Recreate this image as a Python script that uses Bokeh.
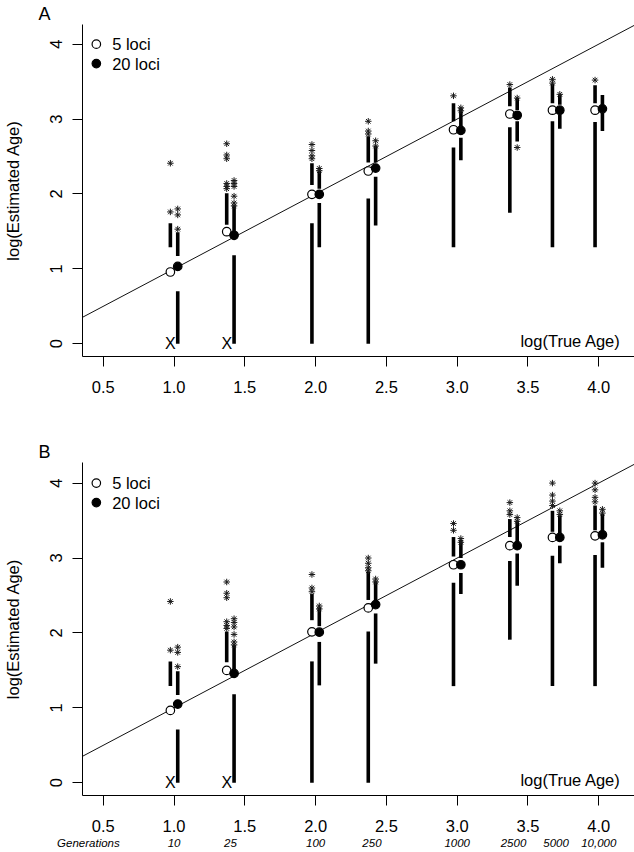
from bokeh.plotting import figure
from bokeh.layouts import column
from bokeh.models import (Range1d, FixedTicker, NumeralTickFormatter, Slope, Label,
                          LinearAxis, ColumnDataSource, Title)
from bokeh.transform import dodge
from bokeh.core.properties import value
from bokeh.embed import file_html
from bokeh.resources import INLINE

FONT = "Liberation Sans"

# ---------------- data ----------------
true_age_log = [1.0, 1.398, 2.0, 2.398, 3.0, 3.398, 3.699, 4.0]
generation_labels = ["10", "25", "100", "250", "1000", "2500", "5000", "10,000"]
x_ticks = [0.5, 1.0, 1.5, 2.0, 2.5, 3.0, 3.5, 4.0]
y_ticks = [0, 1, 2, 3, 4]
series_names = ["5 loci", "20 loci"]

# Panel A, 5 loci
a5_median = [0.958, 1.496, 1.995, 2.306, 2.857, 3.067, 3.118, 3.118]
a5_upper_from = [1.29, 1.59, 2.12, 2.42, 2.97, 3.17, 3.21, 3.21]
a5_upper_to = [1.61, 2.01, 2.41, 2.77, 3.21, 3.42, 3.47, 3.45]
a5_lower_from = [None, None, 1.61, 1.94, 2.62, 2.89, 2.97, 2.96]
a5_lower_to = [None, None, 0.0, 0.0, 1.29, 1.75, 1.29, 1.29]
a5_outliers = [[2.41, 1.76], [2.67, 2.52, 2.47, 2.14, 2.10, 2.07], [2.66, 2.58, 2.51, 2.47],
               [2.97, 2.84, 2.80], [3.31], [3.46], [3.53, 3.48], [3.52]]
# Panel A, 20 loci
a20_median = [1.033, 1.448, 1.995, 2.345, 2.848, 3.05, 3.118, 3.136]
a20_upper_from = [1.17, 1.50, 2.07, 2.42, 2.90, 3.12, 3.19, 3.19]
a20_upper_to = [1.49, 1.85, 2.31, 2.64, 3.15, 3.28, 3.33, 3.32]
a20_lower_from = [0.70, 1.18, 1.88, 2.23, 2.75, 2.97, 3.06, 3.08]
a20_lower_to = [0.0, 0.0, 1.29, 1.58, 2.45, 2.70, 2.87, 2.84]
a20_outliers = [[1.80, 1.72, 1.53], [2.18, 2.14, 2.10, 1.97, 1.88, 1.84], [2.34, 2.31],
                [2.71, 2.64], [3.15, 3.11], [3.28, 2.62], [3.33], []]

# Panel B, 5 loci
b5_median = [0.966, 1.50, 2.015, 2.334, 2.91, 3.165, 3.275, 3.296]
b5_upper_from = [1.29, 1.61, 2.17, 2.44, 3.02, 3.28, 3.35, 3.37]
b5_upper_to = [1.62, 2.02, 2.52, 2.82, 3.28, 3.52, 3.63, 3.70]
b5_lower_from = [None, None, 1.62, 2.02, 2.67, 2.96, 3.03, 3.04]
b5_lower_to = [None, None, 0.0, 0.0, 1.29, 1.91, 1.29, 1.29]
b5_outliers = [[2.42, 1.77], [2.68, 2.53, 2.47, 2.15, 2.10, 2.06], [2.78, 2.60, 2.55],
               [3.00, 2.93, 2.87, 2.83], [3.46, 3.37], [3.74, 3.63, 3.58],
               [4.00, 3.84, 3.76, 3.70], [4.00, 3.91, 3.81, 3.75]]
# Panel B, 20 loci
b20_median = [1.05, 1.46, 2.01, 2.378, 2.91, 3.165, 3.275, 3.31]
b20_upper_from = [1.17, 1.52, 2.09, 2.43, 3.00, 3.22, 3.33, 3.35]
b20_upper_to = [1.49, 1.84, 2.34, 2.69, 3.24, 3.50, 3.57, 3.59]
b20_lower_from = [0.71, 1.18, 1.88, 2.26, 2.80, 3.06, 3.165, 3.21]
b20_lower_to = [0.0, 0.0, 1.30, 1.59, 2.52, 2.63, 2.93, 2.87]
b20_outliers = [[1.81, 1.74, 1.55], [2.19, 2.14, 2.08, 1.98, 1.88, 1.84], [2.36, 2.32],
                [2.72, 2.68], [3.26, 3.21], [3.54, 3.49], [3.63, 3.58], [3.65, 3.60]]

# ---------------- layout constants ----------------
X_START, X_END = 0.3533, 4.2526
OFF5, OFF20 = -0.026, 0.026


def whisker_source(lo, hi):
    keep = [(x, a, b) for x, a, b in zip(true_age_log, lo, hi) if a is not None]
    return ColumnDataSource(dict(x=[k[0] for k in keep], y0=[k[1] for k in keep],
                                 y1=[k[2] for k in keep]))


def outlier_source(outs):
    xs, ys = [], []
    for x, vals in zip(true_age_log, outs):
        for v in vals:
            xs.append(x)
            ys.append(v)
    return ColumnDataSource(dict(x=xs, y=ys))


def draw_series(p, med, up_from, up_to, lo_from, lo_to, outs, off, filled):
    xd = dodge("x", off)
    for src in (whisker_source(up_from, up_to), whisker_source(lo_from, lo_to)):
        p.segment(x0=xd, y0="y0", x1=xd, y1="y1", source=src, line_width=3.6,
                  line_color="black", line_cap="butt")
    p.scatter(x=xd, y="y", source=outlier_source(outs), marker="asterisk", size=6.5,
              line_color="#1a1a1a", line_width=1.0)
    # groups with no lower whisker: estimates of zero marked with X
    zx = [x for x, lo in zip(true_age_log, lo_from) if lo is None]
    if zx:
        p.text(x=dodge("x", off), y="y", text="t",
               source=ColumnDataSource(dict(x=zx, y=[0.0] * len(zx), t=["X"] * len(zx))),
               text_align="center", text_baseline="middle", text_font=value(FONT),
               text_font_size="16px", text_color="black")
    p.scatter(x=xd, y="m", source=ColumnDataSource(dict(x=true_age_log, m=med)),
              marker="circle", size=8.5, fill_color="black" if filled else "white",
              line_color="black", line_width=1.2)


def make_panel(tag, height, border_top, border_bottom, y_end, s5, s20, generations=False):
    p = figure(width=634, height=height, x_range=Range1d(X_START, X_END),
               y_range=Range1d(-0.17, y_end), output_backend="svg",
               toolbar_location=None, min_border_left=76, min_border_right=0,
               min_border_top=border_top, min_border_bottom=border_bottom)
    p.outline_line_color = None
    p.grid.visible = False
    p.background_fill_color = "white"
    p.border_fill_color = "white"

    p.title = Title(text=tag, align="left", offset=-44, standoff=2,
                    text_font=FONT, text_font_size="18px", text_font_style="normal",
                    text_color="black", text_line_height=0.5, vertical_align="bottom")

    p.xaxis.ticker = FixedTicker(ticks=x_ticks)
    p.xaxis.formatter = NumeralTickFormatter(format="0.0")
    p.yaxis.ticker = FixedTicker(ticks=y_ticks)
    p.yaxis.major_label_orientation = "vertical"
    p.yaxis.axis_label = "log(Estimated Age)"
    for ax in p.xaxis + p.yaxis:
        ax.axis_line_color = "black"
        ax.axis_line_width = 1
        ax.major_tick_line_color = "black"
        ax.major_tick_out = 10
        ax.major_tick_in = 0
        ax.minor_tick_line_color = None
        ax.major_label_text_font = FONT
        ax.major_label_text_font_size = "16.5px"
        ax.major_label_text_color = "black"
        ax.axis_label_text_font = FONT
        ax.axis_label_text_font_size = "16.5px"
        ax.axis_label_text_font_style = "normal"
        ax.axis_label_text_color = "black"
    p.xaxis.major_label_standoff = 14
    p.yaxis.major_label_standoff = 10
    p.yaxis.axis_label_standoff = 26

    p.add_layout(Slope(gradient=1, y_intercept=0, line_color="#111111", line_width=1,
                       level="underlay"))

    draw_series(p, *s5, OFF5, False)
    draw_series(p, *s20, OFF20, True)

    # legend (drawn by hand like the R legend)
    leg = ColumnDataSource(dict(x=[0.451, 0.451], y=[4.0, 3.74], name=series_names,
                                fill=["white", "black"]))
    p.scatter(x="x", y="y", source=leg, marker="circle", size=8.5, fill_color="fill",
              line_color="black", line_width=1.2)
    p.text(x=dodge("x", 0.112), y="y", text="name", source=leg, text_align="left",
           text_baseline="middle", text_font=value(FONT), text_font_size="16.5px",
           text_color="black")

    p.add_layout(Label(x=4.155, y=0.04, text="log(True Age)", text_align="right",
                       text_baseline="middle", text_font=FONT, text_font_size="16.5px",
                       text_color="black"))

    if generations:
        gen_ticks = [0.395] + true_age_log
        gen_axis = LinearAxis(ticker=FixedTicker(ticks=gen_ticks),
                              major_label_overrides={t: l for t, l in
                                                     zip(gen_ticks, ["Generations"] + generation_labels)})
        gen_axis.axis_line_color = None
        gen_axis.major_tick_line_color = None
        gen_axis.minor_tick_line_color = None
        gen_axis.major_tick_out = 0
        gen_axis.major_tick_in = 0
        gen_axis.major_label_standoff = 2
        gen_axis.major_label_text_font = FONT
        gen_axis.major_label_text_font_size = "11.5px"
        gen_axis.major_label_text_font_style = "italic"
        gen_axis.major_label_text_color = "black"
        p.add_layout(gen_axis, "below")
    return p


pA = make_panel("A", 438, 18, 82, 4.262,
                (a5_median, a5_upper_from, a5_upper_to, a5_lower_from, a5_lower_to, a5_outliers),
                (a20_median, a20_upper_from, a20_upper_to, a20_lower_from, a20_lower_to, a20_outliers))
pB = make_panel("B", 414, 18, 57, 4.275,
                (b5_median, b5_upper_from, b5_upper_to, b5_lower_from, b5_lower_to, b5_outliers),
                (b20_median, b20_upper_from, b20_upper_to, b20_lower_from, b20_lower_to, b20_outliers),
                generations=True)

layout = column(pA, pB)
open("out.html", "w").write(file_html(layout, INLINE))
